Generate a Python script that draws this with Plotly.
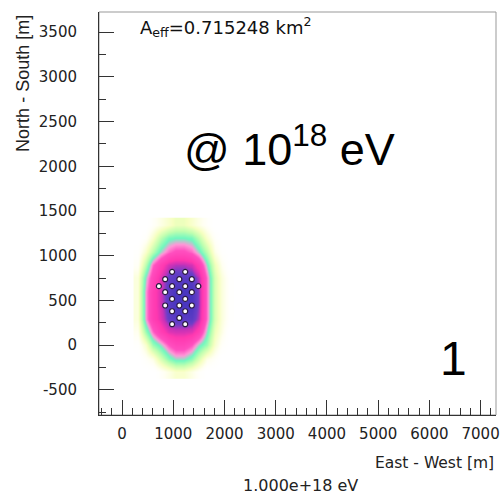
import plotly.graph_objects as go

# ---- data ----
grid_x = [300, 450, 600, 750, 900, 1050, 1200, 1350, 1500, 1650, 1800, 1950, 2100]
grid_y = [-300, -150, 0, 150, 300, 450, 600, 750, 900, 1050, 1200, 1350]
density = [
    [0, 0, 0, 0.05, 0.1, 0.15, 0.15, 0.1, 0.05, 0, 0, 0, 0],
    [0, 0.05, 0.1, 0.25, 0.38, 0.45, 0.45, 0.38, 0.25, 0.1, 0.05, 0, 0],
    [0.03, 0.15, 0.35, 0.45, 0.58, 0.65, 0.65, 0.58, 0.45, 0.35, 0.15, 0.05, 0],
    [0.08, 0.35, 0.55, 0.7, 0.8, 0.82, 0.82, 0.8, 0.7, 0.45, 0.2, 0.1, 0],
    [0.12, 0.5, 0.7, 0.8, 0.92, 0.95, 0.95, 0.95, 0.85, 0.55, 0.25, 0.12, 0.03],
    [0.12, 0.5, 0.7, 0.82, 0.95, 1, 1, 1, 0.88, 0.55, 0.25, 0.12, 0.03],
    [0.12, 0.5, 0.7, 0.82, 0.95, 1, 1, 1, 0.88, 0.55, 0.25, 0.12, 0.03],
    [0.12, 0.45, 0.65, 0.8, 0.92, 0.95, 0.95, 0.95, 0.85, 0.55, 0.25, 0.12, 0.03],
    [0.06, 0.3, 0.55, 0.7, 0.82, 0.85, 0.85, 0.82, 0.7, 0.45, 0.2, 0.08, 0],
    [0.03, 0.15, 0.3, 0.45, 0.55, 0.6, 0.6, 0.55, 0.45, 0.3, 0.1, 0.03, 0],
    [0, 0.05, 0.15, 0.3, 0.4, 0.42, 0.42, 0.4, 0.3, 0.15, 0.05, 0, 0],
    [0, 0, 0.05, 0.1, 0.15, 0.2, 0.2, 0.15, 0.1, 0.05, 0, 0, 0],
]
station_x = [977, 1233, 842, 1118, 1362, 719, 977, 1233, 1489, 842, 1118, 1362,
             977, 1233, 842, 1118, 1362, 977, 1233, 1118, 977, 1233]
station_y = [820, 820, 738, 738, 738, 660, 660, 660, 660, 593, 593, 593,
             518, 518, 444, 444, 444, 380, 380, 305, 235, 235]
x_ticks = [0, 1000, 2000, 3000, 4000, 5000, 6000, 7000]
y_ticks = [-500, 0, 500, 1000, 1500, 2000, 2500, 3000, 3500]
aeff_text = "A<sub>eff</sub>=0.715248 km<sup>2</sup>"
energy_text = "1.000e+18 eV"

colorscale = [
    [0.0, "rgba(255,255,255,0)"],
    [0.08, "#fffff0"],
    [0.18, "#f6ffc0"],
    [0.3, "#c0ffb0"],
    [0.42, "#70f8c0"],
    [0.5, "#ff98d8"],
    [0.58, "#ff50c0"],
    [0.75, "#ff38b0"],
    [0.84, "#c832b8"],
    [0.9, "#6a40c8"],
    [1.0, "#4a36c0"],
]

fig = go.Figure()
fig.add_trace(go.Heatmap(x=grid_x, y=grid_y, z=density, colorscale=colorscale,
                         zmin=0, zmax=1, showscale=False, zsmooth="best",
                         hoverinfo="skip"))
fig.add_trace(go.Scatter(x=station_x, y=station_y, mode="markers",
                         marker=dict(size=5, color="white",
                                     line=dict(color="#2a1840", width=1.2)),
                         hoverinfo="skip", showlegend=False))

font = "DejaVu Sans, Verdana, sans-serif"
afont = "Liberation Sans, Arial, sans-serif"
axis_common = dict(showgrid=False, zeroline=False, showline=True,
                   linecolor="#333", linewidth=1, mirror=False,
                   ticks="inside", ticklen=15, tickwidth=1, tickcolor="#333",
                   tickfont=dict(family=font, size=15, color="#222"))
fig.update_xaxes(range=[-450, 7300], tickvals=x_ticks,
                 ticktext=[str(v) for v in x_ticks],
                 minor=dict(dtick=200, tick0=0, ticks="inside", ticklen=7,
                            tickcolor="#333", tickwidth=1),
                 ticklabelstandoff=5, **axis_common)
fig.update_yaxes(range=[-780, 3725], tickvals=y_ticks,
                 ticktext=[str(v) for v in y_ticks],
                 minor=dict(dtick=250, tick0=0, ticks="inside", ticklen=7,
                            tickcolor="#333", tickwidth=1),
                 ticklabelstandoff=18, **axis_common)

fig.add_shape(type="rect", xref="paper", yref="paper", x0=0, x1=1, y0=0, y1=1,
              line=dict(color="#999", width=1), layer="below")

fig.add_annotation(text=aeff_text, xref="paper", yref="paper", x=0.098, y=1.0,
                   xanchor="left", yanchor="top", showarrow=False,
                   font=dict(family=font, size=18, color="#111"))
fig.add_annotation(text="@ 10<sup>18</sup> eV", xref="paper", yref="paper",
                   x=0.48, y=0.668, xanchor="center", yanchor="middle",
                   showarrow=False, font=dict(family=afont, size=45, color="black"))
fig.add_annotation(text="1", xref="paper", yref="paper", x=0.892, y=0.14,
                   xanchor="center", yanchor="middle", showarrow=False,
                   font=dict(family=afont, size=48, color="black"))
fig.add_annotation(text="North - South [m]", xref="paper", yref="paper",
                   x=-0.193, y=0.9975, xanchor="center", yanchor="top",
                   textangle=-90, showarrow=False,
                   font=dict(family=afont, size=18, color="#222"))
fig.add_annotation(text="East - West [m]", xref="paper", yref="paper",
                   x=1.0, y=-0.12, xanchor="right", yanchor="middle",
                   showarrow=False, font=dict(family=font, size=15.5, color="#222"))
fig.add_annotation(text=energy_text, xref="paper", yref="paper",
                   x=0.508, y=-0.174, xanchor="center", yanchor="middle",
                   showarrow=False, font=dict(family=font, size=16, color="#222"))

fig.update_layout(width=504, height=495, margin=dict(l=99, r=4, t=12, b=80),
                  paper_bgcolor="white", plot_bgcolor="white", showlegend=False)
fig.write_html("out.html")
